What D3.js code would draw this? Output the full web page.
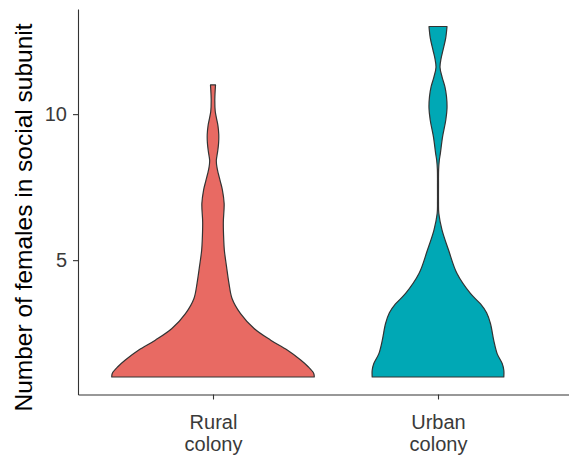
<!DOCTYPE html>
<html>
<head>
<meta charset="utf-8">
<script src="https://cdn.jsdelivr.net/npm/d3@7"></script>
<style>
  html, body { margin: 0; padding: 0; background: #ffffff; }
  svg { display: block; }
  text { font-family: "Liberation Sans", Arial, Helvetica, sans-serif; }
</style>
</head>
<body>
<svg id="chart" width="569" height="456"></svg>
<script>
// Groups shown on the x axis (label lines split on "\n")
const categories = ["Rural\ncolony", "Urban\ncolony"];
const fillColors = ["#E86A63", "#00A8B5"];

// Kernel-density profile of each group: evaluation points on the count axis
// and the density there (scaled so the widest violin equals 1).
const ruralLevels  = [1.0, 1.12, 1.35, 1.58, 1.92, 2.26, 2.66, 3.17, 3.69, 4.2, 4.77, 5.34, 5.7, 6.3, 6.94, 7.4, 7.7, 7.97, 8.2, 8.42, 8.7, 9.0, 9.3, 9.6, 9.85, 10.1, 10.5, 11.0];
const ruralDensity = [1.0, 0.995, 0.94, 0.866, 0.733, 0.57, 0.406, 0.272, 0.188, 0.158, 0.134, 0.112, 0.106, 0.102, 0.11, 0.093, 0.072, 0.052, 0.038, 0.033, 0.045, 0.055, 0.057, 0.049, 0.035, 0.022, 0.018, 0.025];

const urbanLevels  = [1.0, 1.23, 1.46, 1.8, 2.26, 2.83, 3.2, 3.5, 3.86, 4.54, 5.34, 6.03, 6.6, 7.0, 7.5, 8.1, 8.42, 8.65, 9.22, 9.8, 10.2, 10.6, 10.94, 11.25, 11.6, 11.9, 12.2, 12.6, 13.0];
const urbanDensity = [0.65, 0.65, 0.634, 0.584, 0.55, 0.518, 0.48, 0.42, 0.32, 0.188, 0.105, 0.04, 0.008, 0.005, 0.005, 0.006, 0.013, 0.023, 0.045, 0.077, 0.089, 0.084, 0.068, 0.042, 0.02, 0.03, 0.05, 0.076, 0.089];

const yTicks = [5, 10];
const yTitle = "Number of females in social subunit";

const groups = [
  { levels: ruralLevels, density: ruralDensity },
  { levels: urbanLevels, density: urbanDensity }
];

const svg = d3.select("#chart");
const plotLeft = 78, plotRight = 573, plotTop = 9, plotBottom = 394.5;

const x = d3.scalePoint()
  .domain(categories)
  .range([plotLeft, plotRight])
  .padding(0.6);

const y = d3.scaleLinear()
  .domain([0.4, 13.6])
  .range([plotBottom, plotTop]);

// violin half-width for density 1 = 45% of the spacing between groups
const w = d3.scaleLinear().domain([0, 1]).range([0, 0.45 * x.step()]);

// violins
groups.forEach((g, i) => {
  const cx = x(categories[i]);
  const pts = g.levels.map((v, k) => ({ v, d: g.density[k] }));
  const area = d3.area()
    .y(p => y(p.v))
    .x0(p => cx - w(p.d))
    .x1(p => cx + w(p.d))
    .curve(d3.curveCatmullRom.alpha(0.5));
  svg.append("path")
    .datum(pts)
    .attr("d", area)
    .attr("fill", fillColors[i])
    .attr("stroke", "#333333")
    .attr("stroke-width", 1.2)
    .attr("stroke-linejoin", "round");
});

// y axis
const yAxis = svg.append("g")
  .attr("transform", `translate(${plotLeft},0)`)
  .call(d3.axisLeft(y).tickValues(yTicks).tickSize(5).tickPadding(6).tickSizeOuter(0));
yAxis.select(".domain").attr("stroke", "#333333").attr("stroke-width", 1.1);
yAxis.selectAll(".tick line").attr("stroke", "#333333").attr("stroke-width", 1.1);
yAxis.selectAll(".tick text")
  .attr("fill", "#3A3A3A")
  .style("font-size", "20px");

// x axis
const xAxis = svg.append("g")
  .attr("transform", `translate(0,${plotBottom})`)
  .call(d3.axisBottom(x).tickSize(5).tickSizeOuter(0).tickFormat(""));
xAxis.select(".domain").attr("stroke", "#333333").attr("stroke-width", 1.1);
xAxis.selectAll(".tick line").attr("stroke", "#333333").attr("stroke-width", 1.1);

// multi-line category labels
xAxis.selectAll(".tick").each(function(d) {
  const t = d3.select(this).append("text")
    .attr("fill", "#3A3A3A")
    .attr("text-anchor", "middle")
    .style("font-size", "20px");
  d.split("\n").forEach((line, k) => {
    t.append("tspan").attr("x", 0).attr("y", 34 + k * 22).text(line);
  });
});

// y axis title
svg.append("text")
  .attr("transform", `translate(32,217.5) rotate(-90)`)
  .attr("text-anchor", "middle")
  .attr("fill", "#000000")
  .style("font-size", "24.5px")
  .text(yTitle);
</script>
</body>
</html>
